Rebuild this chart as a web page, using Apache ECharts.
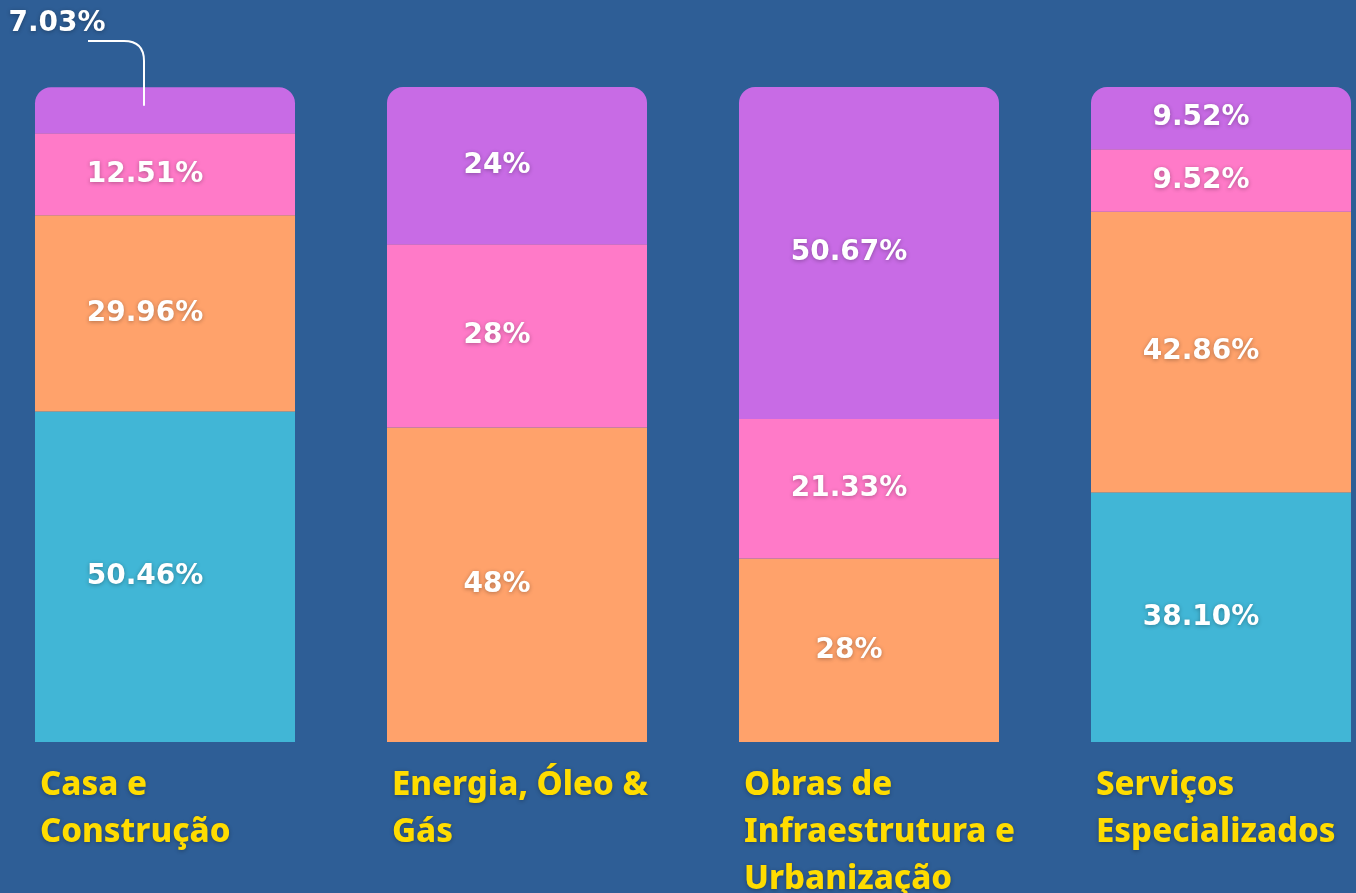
<!DOCTYPE html>
<html>
<head>
<meta charset="utf-8">
<script src="https://cdn.jsdelivr.net/npm/echarts@6/dist/echarts.min.js"></script>
<style>
  html, body { margin: 0; padding: 0; background: #2e5e96; }
  #chart { width: 1356px; height: 893px; }
</style>
</head>
<body>
<div id="chart"></div>
<script>
const categories = ['Casa e Construção', 'Energia, Óleo & Gás', 'Obras de Infraestrutura e Urbanização', 'Serviços Especializados']
const cyanValues = [50.46, null, null, 38.10]
const orangeValues = [29.96, 48, 28, 42.86]
const pinkValues = [12.51, 28, 21.33, 9.52]
const purpleValues = [7.03, 24, 50.67, 9.52]

const fmt = (p) => {
  const v = p.value
  if (v == null) return ''
  return (v % 1 ? v.toFixed(2) : v) + '%'
}

const shadow = {
  textShadowColor: 'rgba(0,0,0,0.3)',
  textShadowBlur: 4,
  textShadowOffsetY: 1
}

const labelStyle = Object.assign({
  show: true,
  position: 'inside',
  offset: [-20, 0],
  color: '#ffffff',
  fontFamily: 'DejaVu Sans',
  fontWeight: 'bold',
  fontSize: 28,
  formatter: fmt
}, shadow)

const makeSeries = (name, data, color, extra) => Object.assign({
  name,
  type: 'bar',
  stack: 'total',
  barWidth: 260,
  data,
  itemStyle: { color },
  label: labelStyle
}, extra || {})

const chart = echarts.init(document.getElementById('chart'))

chart.setOption({
  backgroundColor: '#2e5e96',
  animation: false,
  grid: { left: -11, right: -41, top: 87, bottom: 151, outerBoundsMode: 'none', containLabel: false },
  xAxis: {
    type: 'category',
    data: categories,
    axisLine: { show: false },
    axisTick: { show: false },
    axisLabel: Object.assign({
      interval: 0,
      align: 'left',
      verticalAlign: 'top',
      margin: 20,
      padding: [0, 0, 0, -125],
      width: 290,
      overflow: 'break',
      lineHeight: 47,
      color: '#ffdc00',
      fontFamily: 'Noto Sans',
      fontWeight: 800,
      fontSize: 33
    }, shadow)
  },
  yAxis: {
    type: 'value',
    min: 0,
    max: 100,
    show: false,
    splitLine: { show: false }
  },
  series: [
    makeSeries('cyan', cyanValues, '#41b6d6'),
    makeSeries('orange', orangeValues, '#ffa26b'),
    makeSeries('pink', pinkValues, '#ff7ac8'),
    makeSeries('purple', purpleValues, '#c86be5', {
      itemStyle: { color: '#c86be5', borderRadius: [16, 16, 0, 0] },
      labelLayout: (params) => {
        if (params.dataIndex === 0) {
          return { x: 57, y: 24, align: 'center', verticalAlign: 'middle' }
        }
        return { dx: -20 }
      }
    })
  ]
})

// leader line for the small top segment of the first bar, anchored on the data scale
const total0 = cyanValues[0] + orangeValues[0] + pinkValues[0] + purpleValues[0]
const [cx, inY] = chart.convertToPixel({ xAxisIndex: 0, yAxisIndex: 0 }, [0, total0 - purpleValues[0] * 0.4])
const lx = cx - 21
const lineStyle = { stroke: '#ffffff', lineWidth: 2, fill: null }
chart.setOption({
  graphic: [
    { type: 'line', z: 100, shape: { x1: 88, y1: 41, x2: lx - 20, y2: 41 }, style: lineStyle },
    { type: 'bezierCurve', z: 100, shape: { x1: lx - 20, y1: 41, cpx1: lx, cpy1: 41, x2: lx, y2: 61 }, style: lineStyle },
    { type: 'line', z: 100, shape: { x1: lx, y1: 61, x2: lx, y2: inY }, style: lineStyle }
  ]
})
</script>
</body>
</html>
